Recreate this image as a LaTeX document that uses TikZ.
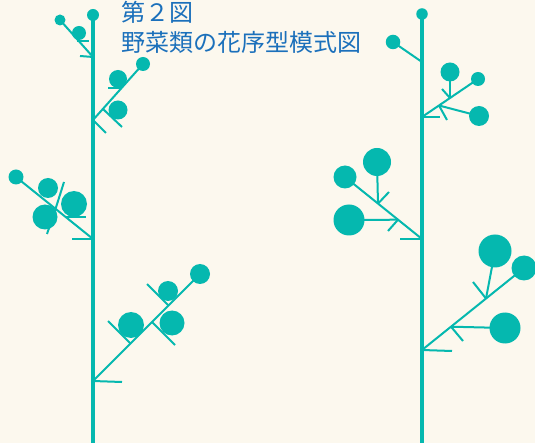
\documentclass[tikz,border=0pt]{standalone}
\usepackage{fontspec}
\newfontfamily\jp{Noto Sans CJK JP}
\definecolor{paper}{HTML}{FCF8EE}
\definecolor{plant}{HTML}{05B8AF}
\definecolor{ink}{HTML}{1B70BB}
\begin{document}
\begin{tikzpicture}[x=1pt,y=-1pt,
  stem/.style={draw=plant,line width=4.5pt},
  twig/.style={draw=plant,line width=2pt},
  bud/.style={circle,fill=plant,inner sep=0pt,minimum size=#1},
  caption/.style={text=ink,font=\jp\fontsize{24pt}{30pt}\selectfont,anchor=base west,inner sep=0pt}]
\useasboundingbox (0,0) rectangle (535,443);
\fill[paper] (0,0) rectangle (535,443);

% title
\node[caption] (title) at (121,21.5) {第２図};
\node[caption] (subtitle) at (121,51.5) {野菜類の花序型模式図};

% ---------------- left plant ----------------
% branch points on the axes
\coordinate (Lbase) at (93,443);
\coordinate (a0) at (93,57);
\coordinate (a1) at (77,41);
\coordinate (b0) at (93,120);
\coordinate (b1) at (122,88);
\coordinate (b2) at (103,109);
\coordinate (c0) at (93,239);
\coordinate (c1) at (55.5,209);
\coordinate (c2) at (65.5,217);
\coordinate (d0) at (93,381);
\coordinate (d1) at (130.5,343.5);
\coordinate (d2) at (152,322);
\coordinate (d3) at (168.5,305.5);
% free ends of the bracts
\coordinate (a2) at (89,41);
\coordinate (a3) at (80,56);
\coordinate (b3) at (108,88);
\coordinate (b4) at (122,127);
\coordinate (b5) at (106,133);
\coordinate (c3) at (72,239);
\coordinate (c4) at (64,182);
\coordinate (c5) at (47,234);
\coordinate (c6) at (86,217);
\coordinate (d4) at (122,382);
\coordinate (d5) at (108,321);
\coordinate (d6) at (175,345);
\coordinate (d7) at (147,284);

% flowers
\node[bud=12pt] (L0) at (93,15) {};
\node[bud=11pt] (LA) at (60,20) {};
\node[bud=14pt] (LA1) at (79,33) {};
\node[bud=14pt] (LB) at (143,64) {};
\node[bud=18pt] (LB1) at (118,79) {};
\node[bud=19pt] (LB2) at (118,110) {};
\node[bud=15pt] (LC) at (16,177) {};
\node[bud=20pt] (LC1) at (48,188) {};
\node[bud=26pt] (LC2) at (74,204) {};
\node[bud=25pt] (LC3) at (45,217) {};
\node[bud=20pt] (LD) at (200,274) {};
\node[bud=26pt] (LD1) at (131,325) {};
\node[bud=25pt] (LD2) at (172,323) {};
\node[bud=20pt] (LD3) at (168,291) {};

\draw[stem] (L0.center) -- (Lbase);
% branch A
\draw[twig] (a0) -- (LA.center);
\draw[twig] (a1) -- (a2);
\draw[twig] (a0) -- (a3);
% branch B
\draw[twig] (b0) -- (LB.center);
\draw[twig] (b1) -- (b3);
\draw[twig] (b2) -- (b4);
\draw[twig] (b0) -- (b5);
% branch C
\draw[twig] (c0) -- (LC.center);
\draw[twig] (c0) -- (c3);
\draw[twig] (c1) -- (c4);
\draw[twig] (c1) -- (c5);
\draw[twig] (c2) -- (c6);
% branch D
\draw[twig] (d0) -- (LD.center);
\draw[twig] (d0) -- (d4);
\draw[twig] (d1) -- (d5);
\draw[twig] (d2) -- (d6);
\draw[twig] (d3) -- (d7);

% ---------------- right plant ----------------
\coordinate (Rbase) at (422,443);
\coordinate (e0) at (422,62);
\coordinate (f0) at (422,117);
\coordinate (f1) at (439,105.5);
\coordinate (f2) at (450,98);
\coordinate (g0) at (422,239);
\coordinate (g1) at (398,219.7);
\coordinate (g2) at (378,203.6);
\coordinate (h0) at (422,350);
\coordinate (h1) at (451,326.7);
\coordinate (h2) at (486,298.5);
% free ends of the bracts
\coordinate (f3) at (440,117);
\coordinate (f4) at (447,120);
\coordinate (f5) at (442,89);
\coordinate (g3) at (400,239);
\coordinate (g4) at (388,231);
\coordinate (g5) at (389,192);
\coordinate (h3) at (452,351);
\coordinate (h4) at (463,341);
\coordinate (h5) at (473,282);

% flowers
\node[bud=11.5pt] (R0) at (422,14) {};
\node[bud=14.5pt] (RE) at (393,42) {};
\node[bud=14pt] (RF) at (478,79) {};
\node[bud=20pt] (RF1) at (479,116) {};
\node[bud=19pt] (RF2) at (450,72) {};
\node[bud=23pt] (RG) at (345,177) {};
\node[bud=31pt] (RG1) at (349,220) {};
\node[bud=28pt] (RG2) at (377,162) {};
\node[bud=25pt] (RH) at (524,268) {};
\node[bud=31pt] (RH1) at (505,328) {};
\node[bud=33pt] (RH2) at (495,251) {};

\draw[stem] (R0.center) -- (Rbase);
% branch E
\draw[twig] (e0) -- (RE.center);
% branch F
\draw[twig] (f0) -- (RF.center);
\draw[twig] (f0) -- (f3);
\draw[twig] (f1) -- (RF1.center);
\draw[twig] (f1) -- (f4);
\draw[twig] (f2) -- (RF2.center);
\draw[twig] (f2) -- (f5);
% branch G
\draw[twig] (g0) -- (RG.center);
\draw[twig] (g0) -- (g3);
\draw[twig] (g1) -- (RG1.center);
\draw[twig] (g1) -- (g4);
\draw[twig] (g2) -- (RG2.center);
\draw[twig] (g2) -- (g5);
% branch H
\draw[twig] (h0) -- (RH.center);
\draw[twig] (h0) -- (h3);
\draw[twig] (h1) -- (RH1.center);
\draw[twig] (h1) -- (h4);
\draw[twig] (h2) -- (RH2.center);
\draw[twig] (h2) -- (h5);
\end{tikzpicture}
\end{document}
